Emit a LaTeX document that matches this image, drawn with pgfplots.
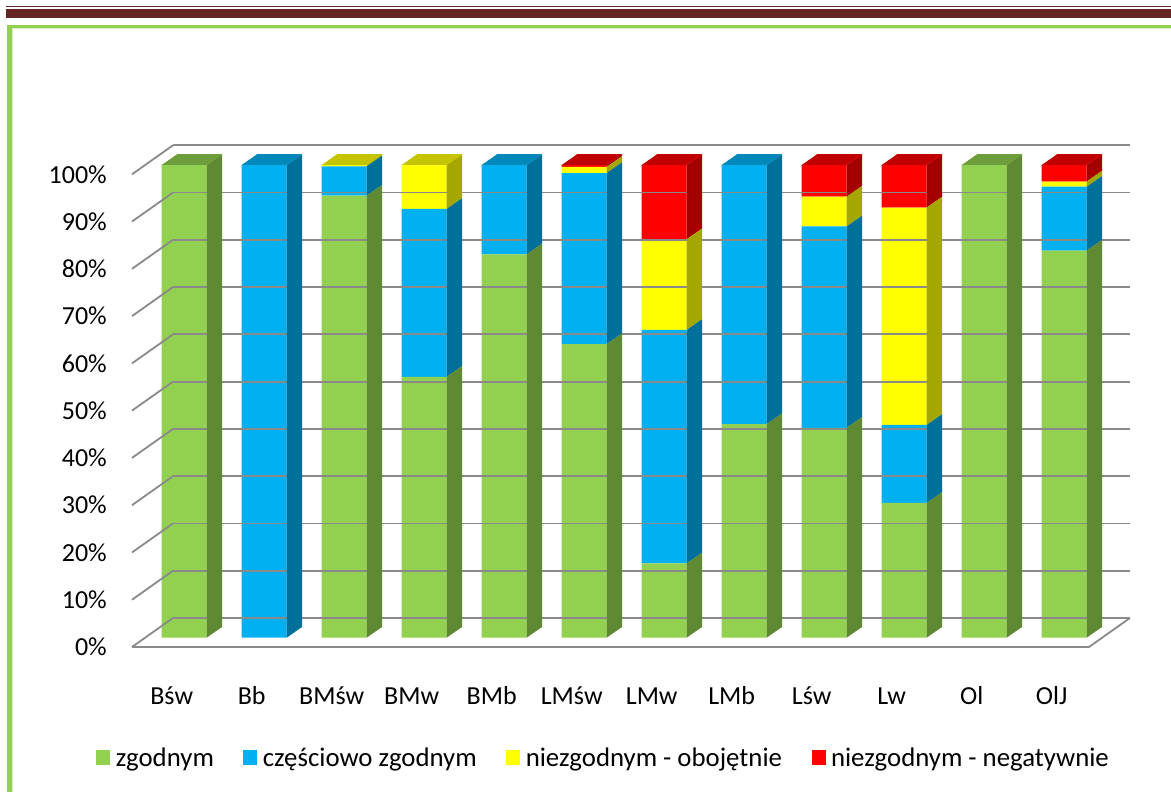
\documentclass[border=0pt]{standalone}
\usepackage{fontspec}
\setmainfont{Carlito}
\usepackage{pgfplots}
\usepackage{pgfplotstable}
\pgfplotsset{compat=1.18}

% front, side and top colours of the four series
\definecolor{cG}{HTML}{92D050}\definecolor{cGs}{HTML}{5F8933}\definecolor{cGt}{HTML}{6E9E3B}
\definecolor{cB}{HTML}{00B0F0}\definecolor{cBs}{HTML}{00709A}\definecolor{cBt}{HTML}{0088BA}
\definecolor{cY}{HTML}{FFFF00}\definecolor{cYs}{HTML}{A6A600}\definecolor{cYt}{HTML}{C4C400}
\definecolor{cR}{HTML}{FF0000}\definecolor{cRs}{HTML}{A50000}\definecolor{cRt}{HTML}{C00000}
\definecolor{hdr}{HTML}{632423}
\definecolor{frameG}{HTML}{92D050}
\definecolor{frameP}{HTML}{D8EFC2}
\definecolor{gridc}{HTML}{8A8A8A}

\newcommand\fsz{\fontsize{26}{31}\selectfont}
\newcommand\lsz{\fontsize{26.8}{32}\selectfont}

% shares of answers per group (percent)
\pgfplotstableread{
idx zg   cz   ob   ng
0   100  0    0    0
1   0    100  0    0
2   93.5 6.2  0.3  0
3   55.2 35.5 9.3  0
4   81.1 18.9 0    0
5   62.1 36.2 1.3  0.4
6   15.7 49.4 19.2 15.7
7   45.2 54.8 0    0
8   44.4 42.6 6.3  6.7
9   28.5 16.5 46.0 9.0
10  100  0    0    0
11  81.9 13.5 1.1  3.5
}\answers

% depth of the columns: side face of every segment, top face of the highest one
\newdimen\yunit \yunit=4.727pt
\newdimen\segH \newdimen\segT \newdimen\segA
\def\barhw{22.5pt}
\def\barhwdx{38pt}
\def\toplx{-7pt}
\def\depy{10.8pt}
\newcommand\prismfaces[2]{%
  \begin{pgfscope}
  \pgfkeys{/pgf/fpu=true,/pgf/fpu/output format=fixed}%
  \pgfmathparse{\segh}\let\segv\pgfmathresult
  \pgfmathparse{\segabove}\let\segw\pgfmathresult
  \pgfkeys{/pgf/fpu=false}%
  \segH=\segv\yunit
  \segA=\segw pt
  \segT=\depy \advance\segT by -\segH
  \pgfpathmoveto{\pgfqpoint{\barhw}{0pt}}%
  \pgfpathlineto{\pgfqpoint{\barhw}{-\segH}}%
  \pgfpathlineto{\pgfqpoint{\barhwdx}{\segT}}%
  \pgfpathlineto{\pgfqpoint{\barhwdx}{\depy}}%
  \pgfpathclose
  \pgfsetfillcolor{#1}\pgfusepath{fill}%
  \ifdim\segH>0pt \ifdim\segA<0.01pt
    \pgfpathmoveto{\pgfqpoint{-\barhw}{0pt}}%
    \pgfpathlineto{\pgfqpoint{\barhw}{0pt}}%
    \pgfpathlineto{\pgfqpoint{\barhwdx}{\depy}}%
    \pgfpathlineto{\pgfqpoint{\toplx}{\depy}}%
    \pgfpathclose
    \pgfsetfillcolor{#2}\pgfusepath{fill}%
  \fi\fi
  \end{pgfscope}}
\pgfdeclareplotmark{emptymark}{}

\pgfplotsset{
  prism/.style n args={5}{
    fill=#2, draw=none, scatter, mark=emptymark,
    visualization depends on={\thisrow{#1}\as\segh},
    visualization depends on={#5\as\segabove},
    scatter/@pre marker code/.code={\prismfaces{#3}{#4}},
    scatter/@post marker code/.code={},
  },
}

\begin{document}
\begin{tikzpicture}[x=1pt,y=1pt]
\fill[white] (0,0) rectangle (1171,792);
\path[use as bounding box] (0,0) rectangle (1171,792);
% header rule
\draw[hdr, line width=1.7] (6,785.5) -- (1171,785.5);
\draw[hdr, line width=8.7] (6,778.6) -- (1171,778.6);
% green frame
\draw[frameP, line width=1.2] (12.6,0) -- (12.6,763.1) -- (1171,763.1);
\draw[frameG, line width=4.6] (9.6,0) -- (9.6,767);
\draw[frameG, line width=3.4] (7.3,765.4) -- (1171,765.4);

\begin{axis}[
  at={(132pt,145pt)}, anchor=south west,
  x=80pt, y=4.727pt,
  xmin=-0.6525, xmax=11.8225, ymin=-1.97, ymax=104.17,
  enlargelimits=false, clip=false,
  ybar stacked, bar width=45pt,
  axis line style={draw=none}, major tick length=0pt,
  /pgf/number format/assume math mode=true,
  tick label style={font=\fsz, text=black},
  xtick={0,...,11},
  xticklabels={Bśw,Bb,BMśw,BMw,BMb,LMśw,LMw,LMb,Lśw,Lw,Ol,OlJ},
  xticklabel style={anchor=base, yshift=-58pt, xshift=-12.5pt},
  ytick={0,10,...,100},
  yticklabel={\pgfmathprintnumber{\tick}\%},
  yticklabel style={anchor=east, inner sep=0pt, xshift=-25pt, yshift=-9.3pt},
  legend columns=4,
  legend style={at={(-0.036,-0.2211)}, anchor=west, draw=none, fill=none,
    inner sep=0pt, font=\lsz,
    nodes={inner xsep=5.5pt, inner ysep=1pt},
    /tikz/every even column/.append style={column sep=24pt}},
]
% back wall, left wall and floor
\pgfplotsinvokeforeach{0,10,...,100}{
  \draw[gridc, line width=1.8] (axis cs:-0.14,{#1+4.17}) -- (axis cs:11.8225,{#1+4.17});
  \draw[gridc, line width=1.8] (axis cs:-0.6525,{#1-1.97}) -- (axis cs:-0.14,{#1+4.17});
}
\draw[gridc, line width=1.8] (axis cs:-0.6525,-1.97) -- (axis cs:11.31,-1.97) -- (axis cs:11.8225,4.17);

\addplot[prism={zg}{cG}{cGs}{cGt}{\thisrow{cz}+\thisrow{ob}+\thisrow{ng}},
  legend image code/.code={\fill[cG] (0pt,-7.5pt) rectangle (14pt,7.5pt);}]
  table[x=idx, y=zg] {\answers};
\addlegendentry{zgodnym}
\addplot[prism={cz}{cB}{cBs}{cBt}{\thisrow{ob}+\thisrow{ng}},
  legend image code/.code={\fill[cB] (0pt,-7.5pt) rectangle (14pt,7.5pt);}]
  table[x=idx, y=cz] {\answers};
\addlegendentry{częściowo zgodnym}
\addplot[prism={ob}{cY}{cYs}{cYt}{\thisrow{ng}},
  legend image code/.code={\fill[cY] (0pt,-7.5pt) rectangle (14pt,7.5pt);}]
  table[x=idx, y=ob] {\answers};
\addlegendentry{niezgodnym - obojętnie}
\addplot[prism={ng}{cR}{cRs}{cRt}{0},
  legend image code/.code={\fill[cR] (0pt,-7.5pt) rectangle (14pt,7.5pt);}]
  table[x=idx, y=ng] {\answers};
\addlegendentry{niezgodnym - negatywnie}
\end{axis}
\end{tikzpicture}
\end{document}
